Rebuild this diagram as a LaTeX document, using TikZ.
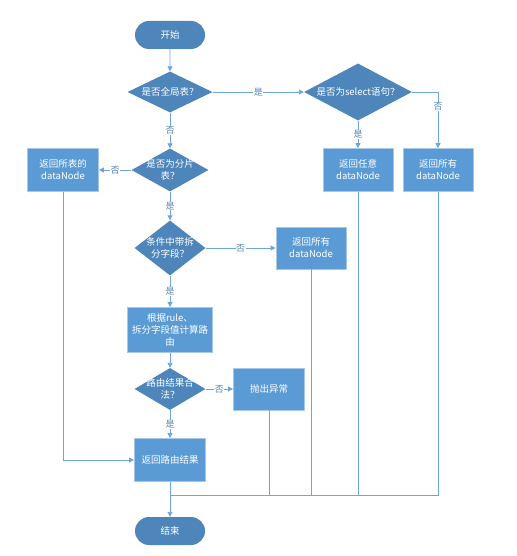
\documentclass[tikz,border=0pt]{standalone}
\usepackage{fontspec}
\setmainfont{Noto Sans CJK SC}
\usetikzlibrary{shapes.geometric,shapes.misc,arrows.meta}
\definecolor{dk}{HTML}{4E86BC}
\definecolor{bx}{HTML}{5B9BD5}
\definecolor{bxb}{HTML}{A9C8E8}
\definecolor{ln}{HTML}{6FA6DA}
\definecolor{lb}{HTML}{5A86B4}
\tikzset{
  every node/.style={font=\fontsize{9.5}{12}\selectfont, text=white, align=center},
  term/.style={rounded rectangle, fill=dk, minimum width=70pt, minimum height=28pt, inner sep=0pt},
  dia/.style={diamond, fill=dk, inner sep=0pt},
  dtext/.style={inner sep=0pt},
  boxn/.style={rectangle, fill=bx, draw=bxb, line width=0.8pt, minimum width=70pt, minimum height=43pt, inner sep=1pt},
  conn/.style={draw=ln, line width=0.9pt},
  arr/.style={conn, -{Triangle[width=5pt,length=5pt]}},
  lbl/.style={fill=white, text=lb, inner sep=0.5pt, font=\fontsize{9}{10}\selectfont},
}
\begin{document}
\begin{tikzpicture}[x=1pt,y=-1pt]
\useasboundingbox (0,0) rectangle (516,556);
% nodes
\node[term] (start) at (170,35) {开始};
\node[dia, minimum width=85pt, minimum height=41pt] (d1) at (170,92) {};
\node[dtext] (t1) at (d1) {是否全局表？};
\node[dia, minimum width=108pt, minimum height=57pt] (d2) at (358,92) {};
\node[dtext] (t2) at (d2) {是否为select语句？};
\node[boxn] (any) at (358,170) {返回任意\\dataNode};
\node[boxn] (allR) at (438,170) {返回所有\\dataNode};
\node[dia, minimum width=77pt, minimum height=43pt] (d3) at (170,170) {};
\node[dtext] (t3) at (d3) {是否为分片\\表？};
\node[boxn, minimum width=71pt] (allT) at (63,170) {返回所表的\\dataNode};
\node[dia, minimum width=71pt, minimum height=55pt] (d4) at (170,248) {};
\node[dtext] (t4) at (d4) {条件中带拆\\分字段？};
\node[boxn, minimum height=42pt] (allM) at (311,248) {返回所有\\dataNode};
\node[boxn, minimum width=85pt, minimum height=45pt, inner sep=0pt] (calc) at (170,330) {根据rule、\\拆分字段值计算路\\由};
\node[dia, minimum width=71pt, minimum height=42pt] (d5) at (170,389) {};
\node[dtext] (t5) at (d5) {路由结果合\\法？};
\node[boxn, minimum width=71pt, minimum height=42pt] (exc) at (269,389) {抛出异常};
\node[boxn, minimum width=71pt] (res) at (170,460) {返回路由结果};
\node[term] (end) at (170,531) {结束};
\coordinate (m) at (170,495);
% connectors
\draw[arr] (start) -- (d1);
\draw[arr] (d1.east) -- node[lbl] (l1) {是} (d2.west);
\draw[arr] (d2.south) -- node[lbl] (l2) {是} (any.north);
\draw[arr] (d2.east) -| node[lbl, pos=0.63] (l3) {否} (allR.north);
\draw[arr] (d1.south) -- node[lbl] (l4) {否} (d3.north);
\draw[arr] (d3.west) -- node[lbl] (l5) {否} (allT.east);
\draw[arr] (d3.south) -- node[lbl] (l6) {是} (d4.north);
\draw[arr] (d4.east) -- node[lbl] (l7) {否} (allM.west);
\draw[arr] (d4.south) -- node[lbl] (l8) {是} (calc.north);
\draw[arr] (calc.south) -- (d5.north);
\draw[arr] (d5.east) -- node[lbl] (l9) {否} (exc.west);
\draw[arr] (d5.south) -- node[lbl] (l10) {是} (res.north);
\draw[arr] (allT.south) |- (res.west);
\draw[conn] (res.south) -- (m);
\draw[conn] (exc.south) |- (m);
\draw[conn] (allM.south) |- (m);
\draw[conn] (any.south) |- (m);
\draw[conn] (allR.south) |- (m);
\draw[arr] (m) -- (end.north);
\end{tikzpicture}
\end{document}
